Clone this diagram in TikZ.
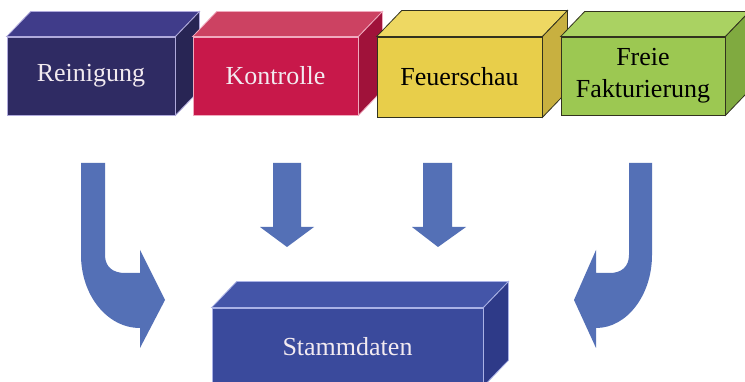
\documentclass[tikz,border=0pt]{standalone}
\usepackage{fontspec}
\setmainfont{Liberation Serif}
\newfontfamily\boxfont{Liberation Serif}
\definecolor{arrowblue}{RGB}{84,112,182}
\definecolor{rfront}{RGB}{47,43,99}
\definecolor{rtop}{RGB}{64,60,138}
\definecolor{rside}{RGB}{40,37,84}
\definecolor{redge}{RGB}{176,170,220}
\definecolor{kfront}{RGB}{200,24,74}
\definecolor{ktop}{RGB}{204,66,98}
\definecolor{kside}{RGB}{160,18,58}
\definecolor{kedge}{RGB}{240,170,190}
\definecolor{ffront}{RGB}{232,206,74}
\definecolor{ftop}{RGB}{238,216,98}
\definecolor{fside}{RGB}{200,176,64}
\definecolor{gfront}{RGB}{156,200,82}
\definecolor{gtop}{RGB}{170,210,98}
\definecolor{gside}{RGB}{128,170,64}
\definecolor{darkedge}{RGB}{50,50,30}
\definecolor{sfront}{RGB}{58,74,156}
\definecolor{stop}{RGB}{68,85,168}
\definecolor{sside}{RGB}{46,58,136}
\definecolor{sedge}{RGB}{170,178,230}
\definecolor{lighttext}{RGB}{242,234,240}
\tikzset{
  front/.style={draw, line width=0.8pt, inner sep=0pt, minimum height=78pt,
    font=\boxfont\fontsize{26}{32}\selectfont, align=center},
  face/.style={line width=0.8pt},
  barrow/.style={fill=arrowblue, draw=none}
}
\newcommand{\cubeside}[5]{%
  \filldraw[face, fill=#4] (#1.north west) -- ++(#2,-#3) -- ([shift={(#2,-#3)}]#1.north east) -- (#1.north east) -- cycle;
  \filldraw[face, fill=#5] (#1.north east) -- ++(#2,-#3) -- ([shift={(#2,-#3)}]#1.south east) -- (#1.south east) -- cycle;
}
\begin{document}
\begin{tikzpicture}[x=1pt,y=-1pt]
\useasboundingbox (0,0) rectangle (745,382);
\clip (0,0) rectangle (745,382);
\fill[white] (0,0) rectangle (745,382);

% top row boxes
\node[front, fill=rfront, draw=redge, text=lighttext, minimum width=168pt] (rein) at (91,76) {Reinigung};
\begin{scope}[draw=redge]\cubeside{rein}{24}{25}{rtop}{rside}\end{scope}

\node[front, fill=kfront, draw=kedge, text=lighttext, minimum width=165pt] (kont) at (275.5,76) {Kontrolle};
\begin{scope}[draw=kedge]\cubeside{kont}{24}{25}{ktop}{kside}\end{scope}

\node[front, fill=ffront, draw=darkedge, text=black, minimum width=165pt, minimum height=80pt] (feuer) at (459.5,77) {Feuerschau};
\begin{scope}[draw=darkedge]\cubeside{feuer}{25}{26}{ftop}{fside}\end{scope}

\node[front, fill=gfront, draw=darkedge, text=black, minimum width=164pt, text depth=6pt] (freie) at (643,76) {Freie\\Fakturierung};
\begin{scope}[draw=darkedge]\cubeside{freie}{24}{25}{gtop}{gside}\end{scope}

% bottom box
\node[front, fill=sfront, draw=sedge, text=lighttext, minimum width=271pt] (stamm) at (347.5,347) {Stammdaten};
\begin{scope}[draw=sedge]\cubeside{stamm}{25}{26}{stop}{sside}\end{scope}

% straight arrows
\fill[barrow] (273,163) -- (301,163) -- (301,227) -- (314,227) -- (287,247) -- (260,227) -- (273,227) -- cycle;
\fill[barrow] (423,163) -- (452,163) -- (452,227) -- (466,227) -- (438,247) -- (412,227) -- (423,227) -- cycle;

% curved arrows
\fill[barrow] (81,163) -- (105,163) -- (105,255)
  .. controls (105,267) and (113,273) .. (125,273) -- (140,273) -- (140,250)
  -- (165,300) -- (140,348) -- (140,328)
  .. controls (107,328) and (81,295) .. (81,255) -- cycle;
\fill[barrow] (652,163) -- (629,163) -- (629,255)
  .. controls (629,267) and (621,273) .. (610,273) -- (596,273) -- (596,250)
  -- (574,300) -- (596,348) -- (596,328)
  .. controls (627,328) and (652,295) .. (652,255) -- cycle;
\end{tikzpicture}
\end{document}
